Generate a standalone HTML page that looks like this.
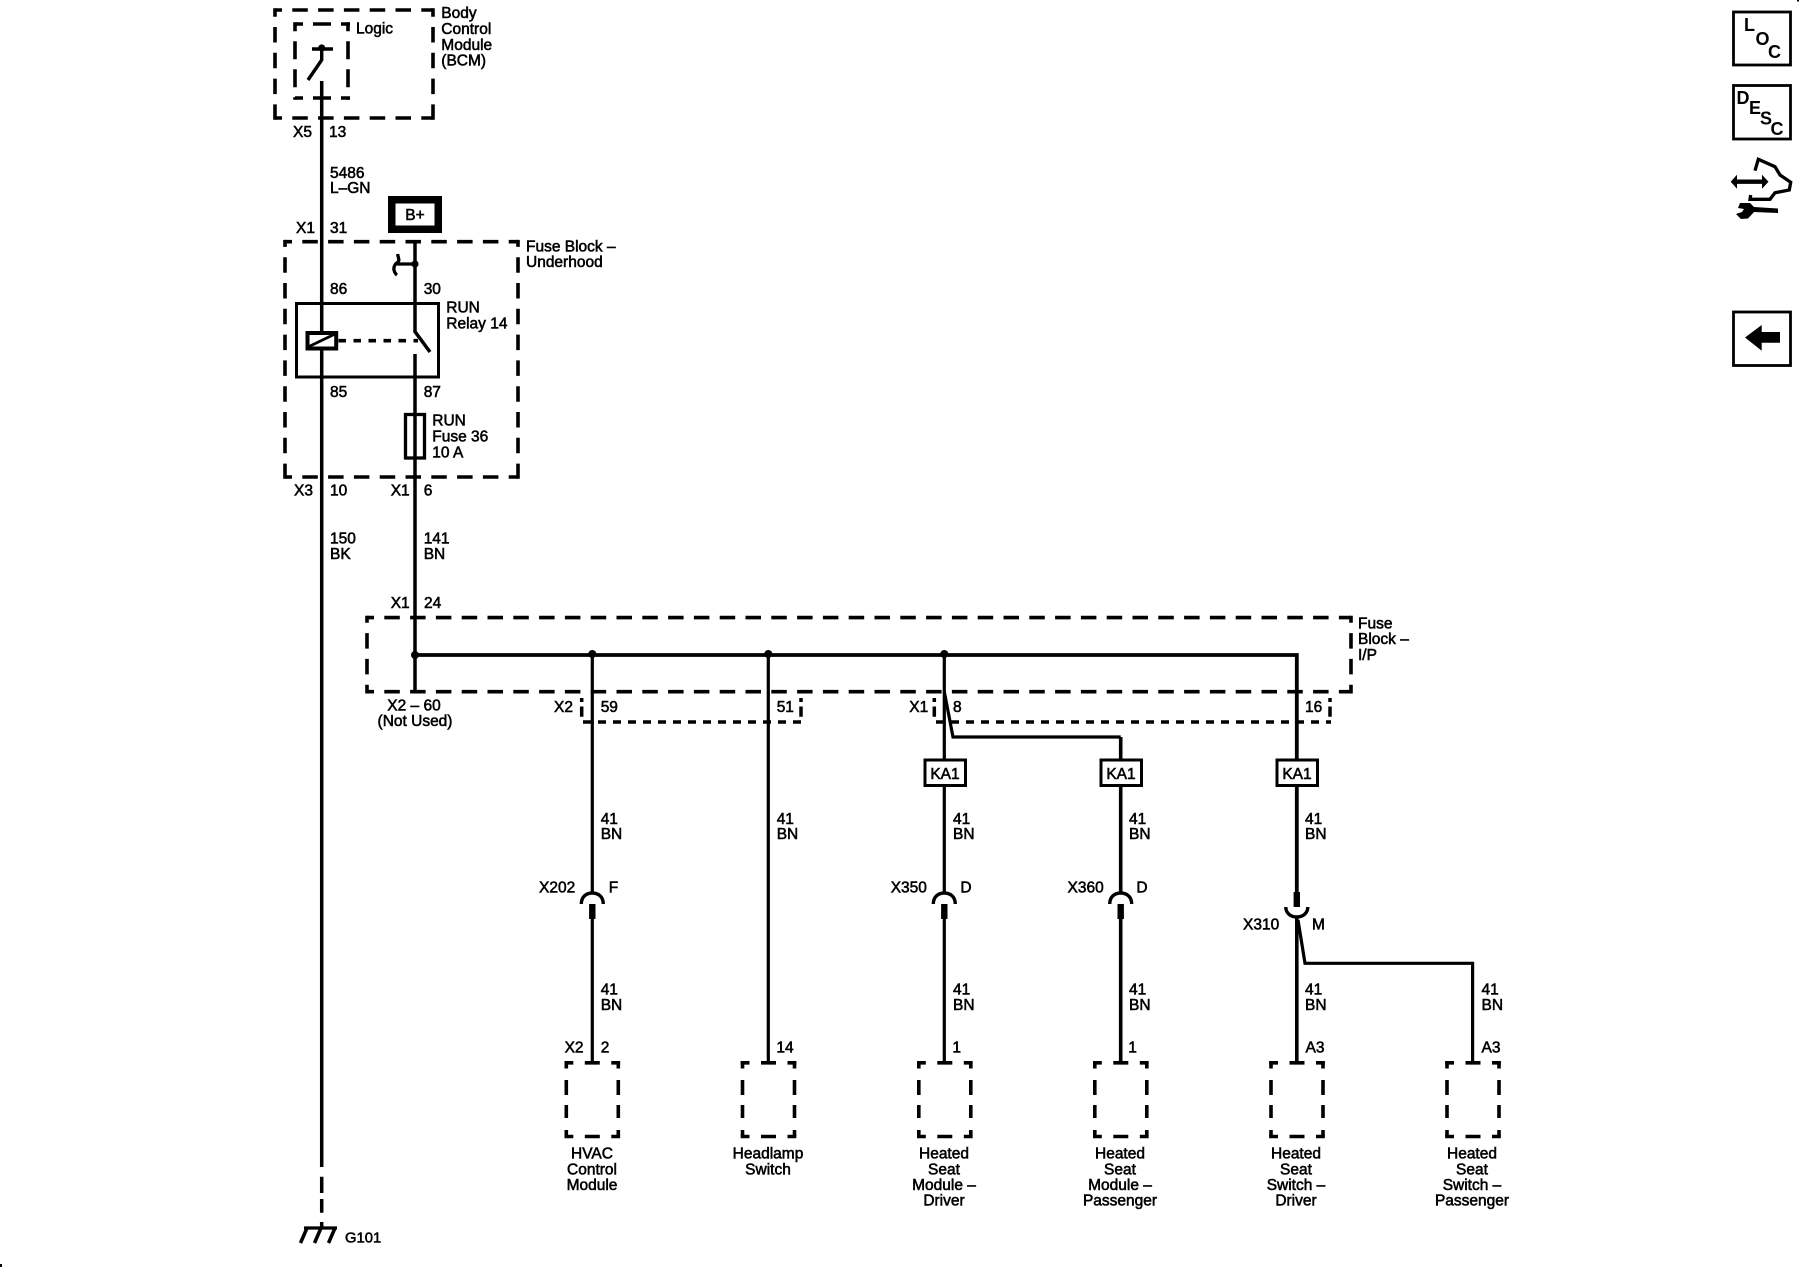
<!DOCTYPE html>
<html><head><meta charset="utf-8"><style>
html,body{margin:0;padding:0;background:#fff;width:1800px;height:1280px;overflow:hidden}
svg{display:block}
text{font-family:"Liberation Sans",sans-serif;font-size:15.5px;fill:#000;stroke:#000;stroke-width:.55}
.m{text-anchor:middle}
.w{stroke:#000;stroke-width:3.5;fill:none}
.b{stroke:#000;stroke-width:3.6;fill:none;stroke-dasharray:15.5 10.3}
.s{stroke:#000;stroke-width:3.6;fill:none}
.i{font-weight:bold;font-size:18px;stroke:none}
</style></head><body>
<svg width="1800" height="1280" viewBox="0 0 1800 1280" xmlns="http://www.w3.org/2000/svg">
<!-- BCM -->
<g class="b">
<path d="M275 10H433" stroke-dashoffset="8.5"/><path d="M275 118H433" stroke-dashoffset="8.5"/>
<path d="M275 8.2V119.8" stroke-dashoffset="7"/><path d="M433 8.2V119.8" stroke-dashoffset="7"/>
</g>
<g class="s" style="stroke-dasharray:18 10">
<path d="M295 24H350" stroke-dashoffset="10"/><path d="M295 98H350" stroke-dashoffset="10"/>
<path d="M295 22.2V99.8" stroke-dashoffset="9"/><path d="M348 22.2V99.8" stroke-dashoffset="9"/>
</g>
<path class="w" d="M312 49H333" style="stroke-width:3.4"/>
<path class="w" d="M321.7 49V60L308 80" style="stroke-width:3.4"/>
<circle cx="321.7" cy="48" r="3.6"/>
<path class="w" d="M321.7 81V1167"/>
<path class="w" d="M321.7 1176.7V1193M321.7 1199V1212.7M321.7 1222V1228"/>
<path class="w" d="M304 1228H337" style="stroke-width:3.3"/>
<path class="w" d="M307 1228L300.5 1243M321 1228L314.5 1243M335 1228L328.5 1243"/>
<text x="345" y="1242.7" style="font-size:14.8px">G101</text>

<text x="441.3" y="18">Body</text><text x="441.3" y="34">Control</text><text x="441.3" y="50">Module</text><text x="441.3" y="65.5">(BCM)</text>
<text x="356" y="33.5">Logic</text>
<text x="293" y="137">X5</text><text x="329" y="137">13</text>
<text x="330" y="178">5486</text><text x="330" y="193">L–GN</text>
<text x="296" y="233">X1</text><text x="330" y="233">31</text>

<!-- B+ -->
<rect x="391.75" y="199.75" width="46.5" height="29.5" fill="#fff" stroke="#000" stroke-width="7.5"/>
<text x="415" y="220" class="m">B+</text>

<!-- Underhood -->
<g class="b">
<path d="M285 241.7H518" stroke-dashoffset="8.5"/><path d="M285 477H518" stroke-dashoffset="8.5"/>
<path d="M285 239.9V478.8" stroke-dashoffset="8.5"/><path d="M518 239.9V478.8" stroke-dashoffset="8.5"/>
</g>
<text x="526" y="251.7">Fuse Block –</text><text x="526" y="267">Underhood</text>
<path class="w" d="M415 241V331.7L430 352" />
<path class="w" d="M415 354V691"/>
<circle cx="415" cy="264" r="3.6"/>
<path class="w" d="M415 264H397" style="stroke-width:3.3"/>
<path class="w" d="M397.7 254C398 258 400 260 398 262C395 264 393.5 267 394 270C394.5 272 395.5 274 397 275" style="stroke-width:3.3"/>
<text x="330" y="294">86</text><text x="423.7" y="294">30</text>
<rect x="296.5" y="303.5" width="142" height="73.5" fill="none" stroke="#000" stroke-width="3"/>
<text x="446.3" y="312.7">RUN</text><text x="446.3" y="328.7">Relay 14</text>
<rect x="307.5" y="333" width="28.7" height="15.5" fill="#fff" stroke="#000" stroke-width="4"/>
<path d="M308 347L335 334" stroke="#000" stroke-width="2.8"/>
<path d="M338.5 340.7H418" stroke="#000" stroke-width="3.6" stroke-dasharray="7.5 7.5"/>
<text x="330" y="397">85</text><text x="423.7" y="397">87</text>
<rect x="405.5" y="414.5" width="19" height="43.5" fill="none" stroke="#000" stroke-width="3.3"/>
<text x="432.3" y="425.7">RUN</text><text x="432.3" y="441.7">Fuse 36</text><text x="432.3" y="457.3">10 A</text>
<text x="294" y="495.7">X3</text><text x="330" y="495.7">10</text>
<text x="390.7" y="495.7">X1</text><text x="423.7" y="495.7">6</text>
<text x="330" y="543.5">150</text><text x="330" y="559">BK</text>
<text x="423.7" y="543.5">141</text><text x="423.7" y="559">BN</text>
<text x="390.7" y="608">X1</text><text x="424" y="608">24</text>

<!-- I/P fuse block -->
<g class="b">
<path d="M367 617.6H1351" stroke-dashoffset="8.5"/><path d="M367 691.7H1351" stroke-dashoffset="8.5"/>
<path d="M367 615.8V693.5" stroke-dashoffset="8.5"/><path d="M1351 615.8V693.5" stroke-dashoffset="8.5"/>
</g>
<text x="1358" y="628.3">Fuse</text><text x="1358" y="644">Block –</text><text x="1358" y="660">I/P</text>
<path class="w" d="M415 655H1296.8V892" style="stroke-width:3.8"/>
<g fill="#000"><circle cx="415" cy="655" r="4"/><circle cx="592.3" cy="654" r="4"/><circle cx="768.3" cy="654" r="4"/><circle cx="944.3" cy="654" r="4"/></g>
<text class="m" x="414" y="710.7">X2 – 60</text><text class="m" x="415" y="726">(Not Used)</text>

<!-- connector dashes -->
<g class="s" style="stroke-width:3.5;stroke-dasharray:8 7">
<path d="M583 722H802"/><path d="M936 722H1331"/>
</g>
<path class="s" d="M581.7 698V702M581.7 706.5V716.7M801 698V702M801 706.5V716.7M934.3 698V702M934.3 706.5V716.7M1330 698V702M1330 706.5V716.7" style="stroke-width:3.5"/>
<text x="554" y="712">X2</text><text x="600.7" y="712">59</text><text x="776.7" y="712">51</text>
<text x="909.3" y="712">X1</text><text x="953" y="712">8</text><text x="1305" y="712">16</text>

<!-- drops -->
<path class="w" d="M592.3 655V892.7M592.3 919V1064" style="stroke-width:3.2"/>
<path class="w" d="M768.3 655V1064" style="stroke-width:3.2"/>
<path class="w" d="M944.3 655V892.7M944.3 919V1064" style="stroke-width:3.2"/>
<path class="w" d="M1120.7 737V892.7M1120.7 919V1064" style="stroke-width:3.6"/>
<path class="w" d="M944.3 691.7L953 737H1120.7" style="stroke-width:3.2"/>
<path class="w" d="M1296.8 917V1064" style="stroke-width:3.6"/>
<path class="w" d="M1298 920L1305 963.3H1472.6V1064" style="stroke-width:3.2"/>

<!-- KA1 -->
<g fill="#fff" stroke="#000" stroke-width="3">
<rect x="925" y="760" width="40.5" height="25.5"/><rect x="1101" y="760" width="40.5" height="25.5"/><rect x="1277" y="760" width="40.5" height="25.5"/>
</g>
<text class="m" x="945" y="779">KA1</text><text class="m" x="1121" y="779">KA1</text><text class="m" x="1297" y="779">KA1</text>

<!-- connectors -->
<g class="w" style="stroke-width:3.4">
<path d="M581.3 904C581.3 897 586 893 592.3 893C598.6 893 603.3 897 603.3 904"/>
<path d="M933.3 904C933.3 897 938 893 944.3 893C950.6 893 955.3 897 955.3 904"/>
<path d="M1109.7 904C1109.7 897 1114.4 893 1120.7 893C1127 893 1131.7 897 1131.7 904"/>
<path d="M1285.8 907C1285.8 913 1290.5 917 1296.8 917C1303.1 917 1307.8 913 1307.8 907"/>
</g>
<g fill="#000">
<rect x="589.1" y="904" width="6.4" height="15"/><rect x="941.1" y="904" width="6.4" height="15"/><rect x="1117.5" y="904" width="6.4" height="15"/><rect x="1293.6" y="892" width="6.4" height="15"/>
</g>
<text x="539" y="892.3">X202</text><text x="608.7" y="892.3">F</text>
<text x="890.7" y="892.3">X350</text><text x="960.4" y="892.3">D</text>
<text x="1067.5" y="892.3">X360</text><text x="1136.4" y="892.3">D</text>
<text x="1243" y="929.5">X310</text><text x="1312" y="929.5">M</text>

<!-- wire labels -->
<text x="600.7" y="824">41</text><text x="600.7" y="839">BN</text>
<text x="776.7" y="824">41</text><text x="776.7" y="839">BN</text>
<text x="953" y="824">41</text><text x="953" y="839">BN</text>
<text x="1129" y="824">41</text><text x="1129" y="839">BN</text>
<text x="1305" y="824">41</text><text x="1305" y="839">BN</text>
<text x="600.7" y="994.3">41</text><text x="600.7" y="1010">BN</text>
<text x="953" y="994.3">41</text><text x="953" y="1010">BN</text>
<text x="1129" y="994.3">41</text><text x="1129" y="1010">BN</text>
<text x="1305" y="994.3">41</text><text x="1305" y="1010">BN</text>
<text x="1481.5" y="994.3">41</text><text x="1481.5" y="1010">BN</text>

<!-- bottom modules -->
<defs>
<g id="mod">
<path class="s" d="M-26 -37.5V-30M-26 -18.5V-3.5M-26 6.5V19.5M-26 31.5V38M26 -37.5V-30M26 -18.5V-3.5M26 6.5V19.5M26 31.5V38"/>
<path class="s" d="M-27.8 -35.7H-19M-7.5 -35.7H7.5M19 -35.7H27.8M-27.8 38H-19M-7.5 38H7.5M19 38H27.8"/>
</g>
</defs>
<use href="#mod" x="592.3" y="1098.5"/><use href="#mod" x="768.5" y="1098.5"/><use href="#mod" x="944.8" y="1098.5"/><use href="#mod" x="1120.8" y="1098.5"/><use href="#mod" x="1297" y="1098.5"/><use href="#mod" x="1473" y="1098.5"/>
<text x="564.6" y="1052.3">X2</text><text x="600.7" y="1052.3">2</text><text x="776.4" y="1052.3">14</text>
<text x="952.4" y="1052.3">1</text><text x="1128.3" y="1052.3">1</text><text x="1305.5" y="1052.3">A3</text><text x="1481.5" y="1052.3">A3</text>
<text class="m" x="592" y="1158.3">HVAC</text><text class="m" x="592" y="1174.3">Control</text><text class="m" x="592" y="1190">Module</text>
<text class="m" x="768" y="1158.3">Headlamp</text><text class="m" x="768" y="1174.3">Switch</text>
<text class="m" x="944" y="1158.3">Heated</text><text class="m" x="944" y="1174.3">Seat</text><text class="m" x="944" y="1190">Module –</text><text class="m" x="944" y="1205.7">Driver</text>
<text class="m" x="1120" y="1158.3">Heated</text><text class="m" x="1120" y="1174.3">Seat</text><text class="m" x="1120" y="1190">Module –</text><text class="m" x="1120" y="1205.7">Passenger</text>
<text class="m" x="1296" y="1158.3">Heated</text><text class="m" x="1296" y="1174.3">Seat</text><text class="m" x="1296" y="1190">Switch –</text><text class="m" x="1296" y="1205.7">Driver</text>
<text class="m" x="1472" y="1158.3">Heated</text><text class="m" x="1472" y="1174.3">Seat</text><text class="m" x="1472" y="1190">Switch –</text><text class="m" x="1472" y="1205.7">Passenger</text>

<!-- right icons -->
<rect x="1733.5" y="12" width="57" height="53" fill="none" stroke="#000" stroke-width="2.8"/>
<text class="i" x="1744" y="31">L</text><text class="i" x="1755.5" y="45">O</text><text class="i" x="1768" y="58">C</text>
<rect x="1733.5" y="85.5" width="57" height="53.5" fill="none" stroke="#000" stroke-width="2.8"/>
<text class="i" x="1736.5" y="104">D</text><text class="i" x="1749" y="114">E</text><text class="i" x="1760" y="124.5">S</text><text class="i" x="1770.5" y="135">C</text>
<rect x="1733.5" y="312" width="57" height="53.5" fill="none" stroke="#000" stroke-width="2.8"/>
<path d="M1745 337.5L1761.7 325V332H1780V342.7H1761.7V350.7Z"/>
<path d="M1730.7 181.7L1737 174.7V179.5H1762V174.7L1768.5 181.7L1762 188.7V183.9H1737V188.7Z"/>
<path d="M1755 170.7L1758.3 159.3L1775 166.7L1780 175L1790.7 182.3L1789.3 190L1775 192.7L1770 199.3L1750 199.3L1750.7 195" fill="none" stroke="#000" stroke-width="3.3"/>
<path d="M1740 203L1750 203L1754 207L1778 208.5V213L1754 212L1748 218.5L1741 219L1736 214L1742 212L1744 209L1738 208Z"/>
<rect x="0" y="1264" width="2" height="3"/>
<rect x="1797" y="0" width="2" height="1.5"/>
</svg>
</body></html>
